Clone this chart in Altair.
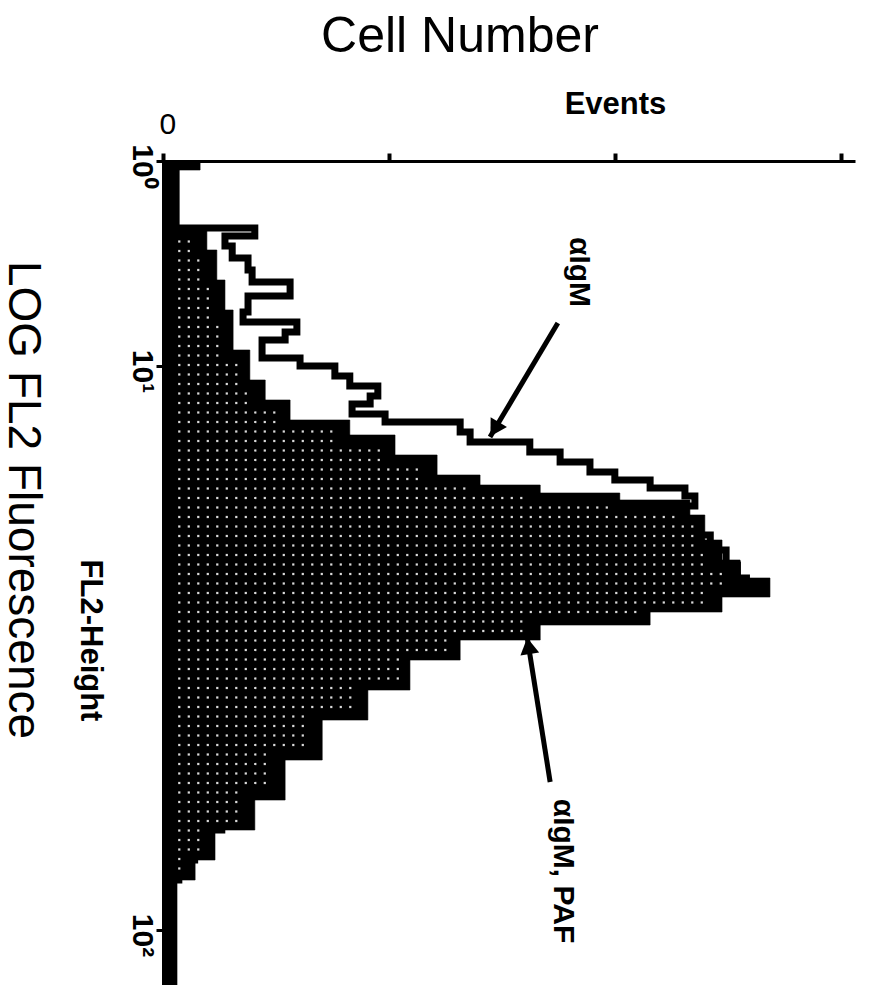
import math

import altair as alt
import pandas as pd

FONT = "Liberation Sans"

# Events axis (top): ticks every 50 events, only the origin carries a label
events_ticks = [0, 50, 100, 150]
events_max = 153

# FL2-Height axis (left): acquisition channel, 0 at the top, decade marks
fl2_ticks = [0, 205, 769]
fl2_tick_labels = ["10⁰", "10¹", "10²"]
fl2_max = 824

# αIgM + PAF: filled histogram, bin start channel and events per bin
paf_start = [0, 9, 68, 89, 119, 149, 189, 219, 239, 259, 274, 294, 314, 324,
             332, 339, 354, 379, 399, 417, 436, 451, 464, 479, 499, 529, 559,
             599, 639, 669, 699, 719]
paf_events = [8.2, 3.3, 9.7, 11.9, 13.7, 15.5, 19.2, 22.6, 28.1, 41.3, 51.3,
              60.6, 70.1, 83.4, 101.0, 116.5, 119.8, 123.6, 127.6, 134.2,
              123.6, 107.7, 83.4, 65.7, 54.6, 45.3, 35.2, 27.0, 20.3, 11.5,
              7.1, 3.1]

# αIgM alone: outline histogram, channel where each step starts and its events
igm_channel = [0, 67, 75, 85, 97, 109, 121, 135, 151, 161, 171, 179, 197, 205,
               215, 225, 235, 243, 253, 261, 271, 281, 291, 301, 311, 319, 327,
               335, 345, 359, 374, 389, 404, 417, 431, 444, 459, 474, 489, 507,
               529, 559, 599, 639, 669, 699, 719, 824]
igm_events = [2.9, 20.3, 13.7, 15.3, 18.8, 19.7, 28.1, 18.8, 17.7, 29.6, 27.0,
              21.9, 30.3, 38.0, 41.3, 47.5, 45.8, 41.8, 49.1, 65.7, 67.9, 81.1,
              87.8, 94.4, 99.9, 107.7, 115.4, 117.6, 115.0, 118.0, 121.0,
              124.5, 127.0, 129.0, 115.0, 100.0, 80.0, 62.0, 50.0, 42.0, 34.0,
              26.0, 19.0, 13.0, 7.0, 3.5, 2.0, 2.0]

# Curve labels and their arrows (tail -> tip), in events / channel units
label_text = ["αIgM", "αIgM, PAF"]
label_events = [90.0, 86.5]
label_channel = [111, 710]
arrow_events = [87.3, 85.6]
arrow_channel = [162, 621]
arrow_tip_events = [72.3, 80.5]
arrow_tip_channel = [276, 476]

W, H = 692, 824
kx = W / events_max
ky = H / fl2_max

paf_end = paf_start[1:] + [fl2_max]
paf = pd.DataFrame({
    "start": paf_start,
    "end": paf_end,
    "events": paf_events,
    "zero": [0] * len(paf_start),
})
igm = pd.DataFrame({"channel": igm_channel, "events": igm_events})
labels = pd.DataFrame({"text": label_text, "events": label_events,
                       "channel": label_channel})


def paf_at(ch):
    for s, e, v in zip(paf_start, paf_end, paf_events):
        if s <= ch < e:
            return v
    return 0.0


# stippled shading of the filled histogram: a regular dot screen kept a
# little inside the outer edge of the filled area
dots = []
step_px = 9.5
row = 14.0
while row < fl2_max - 4:
    edge = min(paf_at(row + d) for d in (-8, -4, 0, 4, 8))
    col = 3.6
    while (col * kx) < edge * kx - 11:
        dots.append({"events": col, "channel": row})
        col += step_px / kx
    row += step_px / ky
stipple = pd.DataFrame(dots)

# arrowheads: rotate a triangle along each shaft and pull it back so its
# point sits on the tip
head_rows = []
for ex, cy, tx, ty in zip(arrow_events, arrow_channel, arrow_tip_events,
                          arrow_tip_channel):
    dx, dy = (tx - ex) * kx, (ty - cy) * ky
    n = math.hypot(dx, dy)
    ang = math.degrees(math.atan2(dx, -dy)) % 360
    back = 9.0
    head_rows.append({"events": tx - dx / n * back / kx,
                      "channel": ty - dy / n * back / ky,
                      "angle": ang})
heads = pd.DataFrame(head_rows)
arrows = pd.DataFrame({"events": arrow_events, "channel": arrow_channel,
                       "tip_events": arrow_tip_events,
                       "tip_channel": arrow_tip_channel})

xscale = alt.Scale(domain=[0, events_max], nice=False, zero=True)
yscale = alt.Scale(domain=[0, fl2_max], nice=False, reverse=True)

y_label_expr = " : ".join(
    f"datum.value == {v} ? '{t}'" for v, t in zip(fl2_ticks, fl2_tick_labels)
) + " : ''"

x_axis = alt.Axis(
    orient="top", values=events_ticks,
    labelExpr="datum.value == 0 ? '0' : ''",
    labelFont=FONT, labelFontSize=30, labelColor="black", labelPadding=14,
    labelAngle=0, labelBaseline="bottom", labelOffset=-4,
    domainColor="black", domainWidth=3, tickColor="black", tickWidth=4,
    tickSize=8, grid=False, zindex=2,
    title="Events", titleFont=FONT, titleFontSize=31, titleFontWeight="bold",
    titleColor="black", titleX=452, titleY=-48, titleAngle=0,
    titleAlign="center", titleBaseline="alphabetic",
)
y_axis = alt.Axis(
    orient="left", values=fl2_ticks, labelExpr=y_label_expr,
    labelFont=FONT, labelFontSize=30, labelFontWeight="bold",
    labelColor="black", labelAngle=90,
    labelAlign="center", labelBaseline="top", labelPadding=0, labelOffset=5,
    domainColor="black", domainWidth=3, tickColor="black", tickWidth=3,
    tickSize=7, grid=False, zindex=2,
    title="FL2-Height", titleFont=FONT, titleFontSize=31,
    titleFontWeight="bold", titleColor="black", titleAngle=90,
    titleX=-83, titleY=479, titleAlign="center", titleBaseline="alphabetic",
)


def xq(field):
    return alt.X(field, type="quantitative", scale=xscale, axis=x_axis,
                 title="Events")


def yq(field):
    return alt.Y(field, type="quantitative", scale=yscale, axis=y_axis,
                 title="FL2-Height")


outline = alt.Chart(igm).mark_line(
    color="black", strokeWidth=7, interpolate="step-before", clip=True
).encode(
    x=xq("events"),
    y=yq("channel"),
    order="channel:Q",
)

filled = alt.Chart(paf).mark_rect(
    color="black", stroke="black", strokeWidth=0.6, clip=True
).encode(
    x=xq("zero"),
    x2="events:Q",
    y=yq("start"),
    y2="end:Q",
)

screen = alt.Chart(stipple).mark_square(
    color="white", size=5, opacity=0.85, clip=True
).encode(
    x=xq("events"),
    y=yq("channel"),
)

shafts = alt.Chart(arrows).mark_rule(color="black", strokeWidth=5).encode(
    x=xq("events"),
    y=yq("channel"),
    x2="tip_events:Q",
    y2="tip_channel:Q",
)

arrowheads = alt.Chart(heads).mark_point(
    shape="triangle-up", filled=True, color="black", opacity=1, size=360
).encode(
    x=xq("events"),
    y=yq("channel"),
    angle=alt.Angle("angle:Q", scale=None),
)

curve_labels = alt.Chart(labels).mark_text(
    font=FONT, fontSize=30, fontWeight="bold", angle=90, align="center",
    baseline="alphabetic", color="black"
).encode(
    x=xq("events"),
    y=yq("channel"),
    text="text:N",
)

cell_number = alt.Chart(pd.DataFrame({"t": ["Cell Number"]})).mark_text(
    font=FONT, fontSize=50, align="center", baseline="alphabetic",
    color="black"
).encode(x=alt.value(297), y=alt.value(-109), text="t:N")

log_title = alt.Chart(pd.DataFrame({"t": ["LOG FL2 Fluorescence"]})).mark_text(
    font=FONT, fontSize=46, angle=90, align="center", baseline="alphabetic",
    color="black"
).encode(x=alt.value(-154), y=alt.value(339), text="t:N")

chart = alt.layer(
    outline, filled, screen, shafts, arrowheads, curve_labels, cell_number,
    log_title
).properties(
    width=W, height=H,
    padding={"left": 163, "top": 161, "right": 15, "bottom": 0},
    autosize=alt.AutoSizeParams(type="none"),
    background="white",
).configure_view(stroke=None)

chart.save("out.html", embed_options={"renderer": "svg", "actions": False})
